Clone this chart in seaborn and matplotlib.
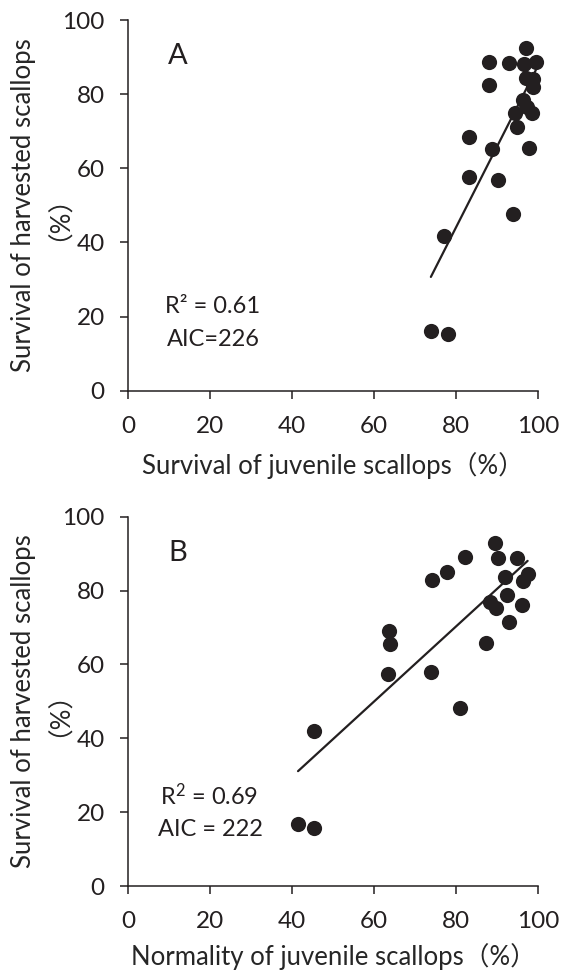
import numpy as np
import pandas as pd
import matplotlib
matplotlib.use("Agg")
import matplotlib.pyplot as plt
import seaborn as sns

# survival of harvested scallops (%), same scallop batches in both panels
harvest_a = [92.5, 88.8, 88.5, 88.1, 88.8, 82.5, 84.3, 84.0, 82.0, 78.4, 76.6, 75.0,
             74.8, 71.1, 68.5, 65.1, 65.6, 57.7, 56.8, 47.7, 41.7, 16.2, 15.2]
juvenile_survival = [97.0, 88.0, 92.8, 96.5, 99.4, 88.0, 96.9, 98.8, 98.8, 96.3, 97.2, 98.5,
                     94.3, 94.9, 83.1, 88.6, 97.8, 83.1, 90.2, 93.9, 77.1, 73.8, 78.1]

harvest_b = [93.0, 89.2, 88.9, 88.9, 84.9, 82.8, 83.8, 84.4, 82.6, 78.8, 76.8, 75.2,
             76.0, 71.5, 69.1, 65.5, 65.9, 57.3, 58.0, 48.2, 42.1, 16.8, 15.7]
juvenile_normality = [89.4, 82.2, 90.1, 94.9, 77.7, 74.0, 91.9, 97.4, 96.2, 92.3, 88.2, 89.8,
                      96.0, 92.9, 63.6, 63.8, 87.2, 63.4, 73.8, 80.9, 45.4, 41.4, 45.3]

ticks = [0, 20, 40, 60, 80, 100]

df_a = pd.DataFrame({"x": juvenile_survival, "y": harvest_a})
df_b = pd.DataFrame({"x": juvenile_normality, "y": harvest_b})

sns.set_style("ticks")
plt.rcParams["font.family"] = ["Lato", "Noto Sans CJK SC", "DejaVu Sans"]
plt.rcParams["mathtext.fontset"] = "custom"
plt.rcParams["mathtext.rm"] = "Lato"
plt.rcParams["mathtext.it"] = "Lato"

cor = "#231f20"
fig = plt.figure(figsize=(5.69, 9.76), dpi=100)
ax_a = fig.add_axes([0.2255, 0.5997, 0.7205, 0.3798])
ax_b = fig.add_axes([0.2255, 0.0922, 0.7205, 0.3784])

paineis = [
    (ax_a, df_a, "A", "R² = 0.61", "AIC=226", "Survival of juvenile scallops（%）", (9.0, 22.6), (9.3, 13.7), 11),
    (ax_b, df_b, "B", "R$^2$ = 0.69", "AIC = 222", "Normality of juvenile scallops（%）", (7.7, 24.6), (7.3, 15.2), 8),
]

for ax, df, letra, r2, aic, xlab, pos_r2, pos_aic, xpad in paineis:
    sns.regplot(data=df, x="x", y="y", ax=ax, ci=None,
                scatter_kws={"s": 120, "color": cor, "alpha": 1, "linewidths": 0,
                             "clip_on": False, "zorder": 3},
                line_kws={"color": cor, "linewidth": 1.6})
    ax.set_xlim(0, 100)
    ax.set_ylim(0, 100)
    ax.set_xticks(ticks)
    ax.set_yticks(ticks)
    ax.set_xlabel(xlab, fontsize=18.5, labelpad=xpad)
    ax.set_ylabel("Survival of harvested scallops\n（%）", fontsize=18.5, labelpad=3,
                  linespacing=0.85)
    ax.tick_params(axis="both", direction="out", length=6, width=1.1, colors=cor,
                   labelsize=17.5, labelcolor=cor)
    ax.tick_params(axis="y", pad=11)
    ax.tick_params(axis="x", pad=12)
    sns.despine(ax=ax)
    for lado in ["left", "bottom"]:
        ax.spines[lado].set_color(cor)
        ax.spines[lado].set_linewidth(1.1)
    ax.text(12, 90.3, letra, fontsize=21, color=cor, ha="center", va="center")
    ax.text(pos_r2[0], pos_r2[1], r2, fontsize=17, color=cor, ha="left", va="center")
    ax.text(pos_aic[0], pos_aic[1], aic, fontsize=17, color=cor, ha="left", va="center")

fig.savefig("out.png", dpi=100)
